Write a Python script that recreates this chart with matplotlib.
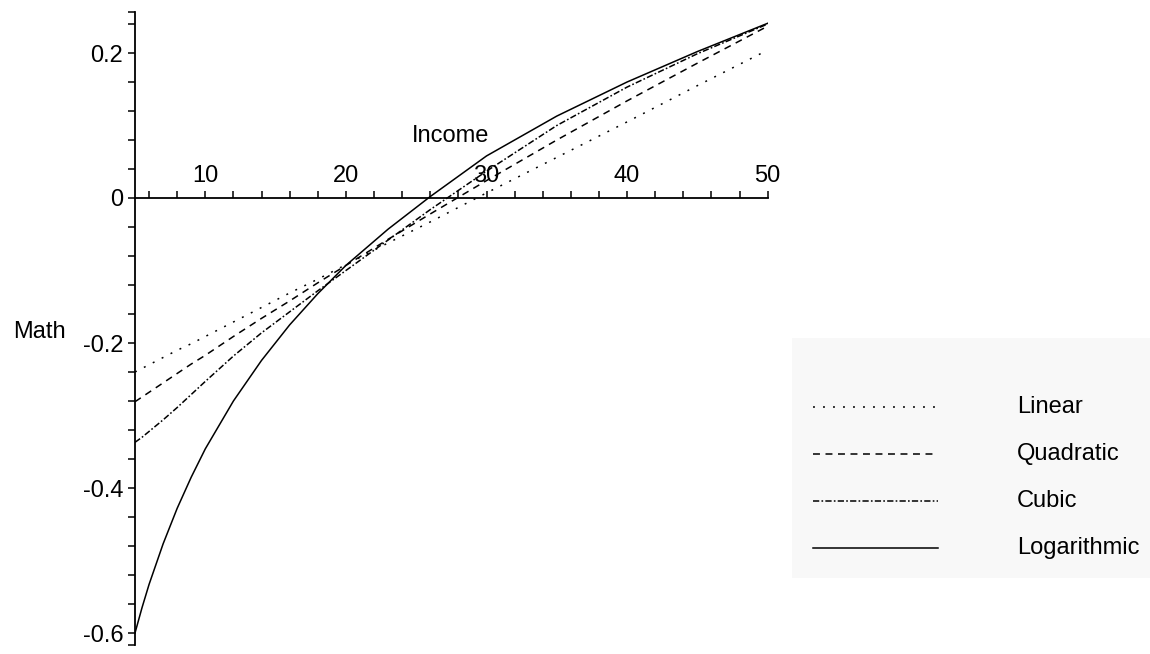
import matplotlib
matplotlib.use("Agg")
import matplotlib.pyplot as plt
from matplotlib import transforms
from matplotlib.patches import Rectangle
from matplotlib.lines import Line2D

plt.rcParams["font.family"] = ["Liberation Sans", "DejaVu Sans"]
plt.rcParams["lines.scale_dashes"] = False

# ---- data -------------------------------------------------------------
income = [5, 5.5, 6, 7, 8, 9, 10, 12, 14, 16, 18, 20, 23, 26, 30, 35, 40, 45, 50]

math_linear = [-0.240, -0.235, -0.230, -0.220, -0.210, -0.201, -0.191, -0.171,
               -0.151, -0.131, -0.112, -0.092, -0.062, -0.033, 0.007, 0.056,
               0.105, 0.155, 0.204]
math_quadratic = [-0.281, -0.2745, -0.268, -0.255, -0.242, -0.229, -0.217, -0.191,
                  -0.166, -0.142, -0.117, -0.093, -0.057, -0.022, 0.024, 0.080,
                  0.134, 0.186, 0.237]
math_cubic = [-0.337, -0.330, -0.322, -0.306, -0.289, -0.271, -0.253, -0.218,
              -0.186, -0.157, -0.128, -0.100, -0.058, -0.016, 0.037, 0.100,
              0.153, 0.199, 0.240]
math_log = [-0.600, -0.565, -0.533, -0.477, -0.428, -0.385, -0.346, -0.280,
            -0.224, -0.175, -0.132, -0.093, -0.043, 0.002, 0.058, 0.113,
            0.160, 0.202, 0.241]

series_names = ["Linear", "Quadratic", "Cubic", "Logarithmic"]
series_values = [math_linear, math_quadratic, math_cubic, math_log]

x_major_ticks = [10, 20, 30, 40, 50]
x_minor_ticks = [6, 8, 12, 14, 16, 18, 22, 24, 26, 28, 32, 34, 36, 38, 42, 44, 46, 48]
y_major_ticks = [-0.6, -0.4, -0.2, 0.0, 0.2]
y_major_labels = ["-0.6", "-0.4", "-0.2", "0", "0.2"]
y_minor_ticks = [-0.617, -0.56, -0.52, -0.48, -0.44, -0.36, -0.32, -0.28, -0.24,
                 -0.16, -0.12, -0.08, -0.04, 0.04, 0.08, 0.12, 0.16, 0.24, 0.257]

# ---- styles -----------------------------------------------------------
styles = [
    dict(linestyle=(0, (1.4, 5.8))),
    dict(linestyle=(0, (5.0, 4.0))),
    dict(linestyle=(0, (4.5, 1.6, 1.2, 1.6))),
    dict(linestyle="-"),
]
LW = 1.1
FS = 17

W, H = 1150, 654
fig = plt.figure(figsize=(W / 100, H / 100), dpi=100)
fig.patch.set_facecolor("white")

# axes placement in pixels: x 5..50 -> 135..767.7, y 0 at 198, 725 px per unit
x0_px, x1_px = 135.0, 767.7
y_top, y_bot = 0.26, -0.62
top_px = 198 - y_top * 725
bot_px = 198 - y_bot * 725
ax = fig.add_axes([x0_px / W, (H - bot_px) / H, (x1_px - x0_px) / W, (bot_px - top_px) / H])
ax.set_xlim(5, 50)
ax.set_ylim(y_bot, y_top)
ax.patch.set_alpha(0)

for vals, st in zip(series_values, styles):
    ax.plot(income, vals, color="black", lw=LW, solid_joinstyle="round", **st)

# axes drawn through the origin line
for s in ("top", "right"):
    ax.spines[s].set_visible(False)
ax.spines["bottom"].set_position(("data", 0))
ax.spines["bottom"].set_bounds(5, 50)
ax.spines["left"].set_bounds(-0.617, 0.257)
for s in ("bottom", "left"):
    ax.spines[s].set_linewidth(1.3)
    ax.spines[s].set_color("black")

ax.set_xticks(x_major_ticks)
ax.set_xticks(x_minor_ticks, minor=True)
ax.set_xticklabels([])
ax.tick_params(axis="x", which="both", direction="in", length=5, width=1.1,
               labelbottom=False)

ax.set_yticks(y_major_ticks)
ax.set_yticklabels(y_major_labels)
ax.set_yticks(y_minor_ticks, minor=True)
ax.tick_params(axis="y", which="both", direction="out", length=5, width=1.1,
               pad=3.5, labelsize=FS)

# x tick labels sit above the horizontal axis
lbl_tr = transforms.offset_copy(ax.transData, fig=fig, x=0, y=16, units="dots")
for xt in x_major_ticks:
    ax.text(xt, 0, str(xt), transform=lbl_tr, ha="center", va="baseline", fontsize=FS)

# overlay in pixel coordinates for titles and the key
ov = fig.add_axes([0, 0, 1, 1])
ov.set_xlim(0, W)
ov.set_ylim(H, 0)
ov.axis("off")
ov.patch.set_alpha(0)

ov.text(412, 141.5, "Income", ha="left", va="baseline", fontsize=FS)
ov.text(13, 338, "Math", ha="left", va="baseline", fontsize=FS)

ov.add_patch(Rectangle((792, 338), W - 792, 240, facecolor="#f8f8f8",
                       edgecolor="none", zorder=0))
rows = [407, 454, 501, 548]
for name, st, yy in zip(series_names, styles, rows):
    ov.add_line(Line2D([813, 938], [yy, yy], color="black", lw=LW, **st))
    ov.text(1017, yy, name, ha="left", va="center", fontsize=FS)

fig.savefig("out.png", dpi=100)
